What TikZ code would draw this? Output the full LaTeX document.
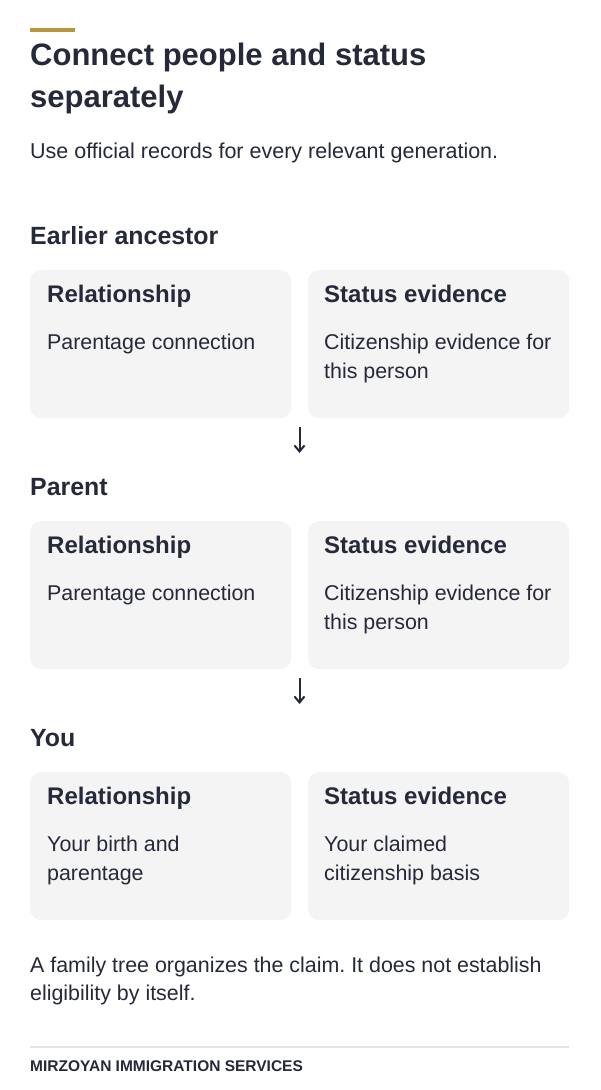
\documentclass[tikz,border=0pt]{standalone}
\usepackage{fontspec}
\setmainfont{Liberation Sans}
\usetikzlibrary{arrows.meta}
\definecolor{ink}{HTML}{262939}
\definecolor{gold}{HTML}{B8963A}
\definecolor{cardfill}{HTML}{F4F4F4}
\definecolor{rulec}{HTML}{E5E5E5}
\frenchspacing
\begin{document}
\begin{tikzpicture}[x=1pt,y=-1pt,
  txt/.style={anchor=base west, inner sep=0pt, text=ink},
  titletxt/.style={txt, font=\fontsize{31}{36}\selectfont\bfseries},
  subtxt/.style={txt, font=\fontsize{21.5}{30}\selectfont},
  sectxt/.style={txt, font=\fontsize{24.9}{30}\selectfont\bfseries},
  headtxt/.style={txt, font=\fontsize{24}{30}\selectfont\bfseries},
  bodytxt/.style={txt, font=\fontsize{21.4}{30}\selectfont},
  brandtxt/.style={txt, font=\fontsize{15.5}{18}\selectfont\bfseries},
  cardbox/.style={anchor=north west, inner sep=0pt, fill=cardfill, rounded corners=11pt,
    minimum width=261pt, minimum height=148pt},
  flowarrow/.style={draw=ink, line width=2pt, -{Straight Barb[length=6pt,width=10pt,line width=2pt]}}
]
\useasboundingbox (0,0) rectangle (600,1090);
\fill[white] (0,0) rectangle (600,1090);

% header
\fill[gold] (30,28) rectangle (75,32);
\node[titletxt] (t1) at (30,65) {Connect people and status};
\node[titletxt] (t2) at (30,107) {separately};
\node[subtxt] (sub) at (30,158) {Use official records for every relevant generation.};

% section 1
\node[sectxt] (s1) at (30,244) {Earlier ancestor};
\node[cardbox] (r1) at (30,270) {};
\node[cardbox] (e1) at (308,270) {};
\node[headtxt] (r1h) at (47,302) {Relationship};
\node[bodytxt] (r1b) at (47,349) {Parentage connection};
\node[headtxt] (e1h) at (324,302) {Status evidence};
\node[bodytxt] (e1b) at (324,349) {Citizenship evidence for};
\node[bodytxt] (e1c) at (324,378) {this person};

\coordinate (a1s) at (299.5,427);
\coordinate (a1e) at (299.5,453);
\draw[flowarrow] (a1s) -- (a1e);

% section 2
\node[sectxt] (s2) at (30,495) {Parent};
\node[cardbox] (r2) at (30,521) {};
\node[cardbox] (e2) at (308,521) {};
\node[headtxt] (r2h) at (47,553) {Relationship};
\node[bodytxt] (r2b) at (47,600) {Parentage connection};
\node[headtxt] (e2h) at (324,553) {Status evidence};
\node[bodytxt] (e2b) at (324,600) {Citizenship evidence for};
\node[bodytxt] (e2c) at (324,629) {this person};

\coordinate (a2s) at (299.5,678);
\coordinate (a2e) at (299.5,704);
\draw[flowarrow] (a2s) -- (a2e);

% section 3
\node[sectxt] (s3) at (30,746) {You};
\node[cardbox] (r3) at (30,772) {};
\node[cardbox] (e3) at (308,772) {};
\node[headtxt] (r3h) at (47,804) {Relationship};
\node[bodytxt] (r3b) at (47,851) {Your birth and};
\node[bodytxt] (r3c) at (47,880) {parentage};
\node[headtxt] (e3h) at (324,804) {Status evidence};
\node[bodytxt] (e3b) at (324,851) {Your claimed};
\node[bodytxt] (e3c) at (324,880) {citizenship basis};

% footer
\node[bodytxt] (f1) at (30,972) {A family tree organizes the claim. It does not establish};
\node[bodytxt] (f2) at (30,1000) {eligibility by itself.};
\draw[rulec, line width=1.5pt] (30,1047) -- (569,1047);
\node[brandtxt] (brand) at (30,1071) {MIRZOYAN IMMIGRATION SERVICES};
\end{tikzpicture}
\end{document}
